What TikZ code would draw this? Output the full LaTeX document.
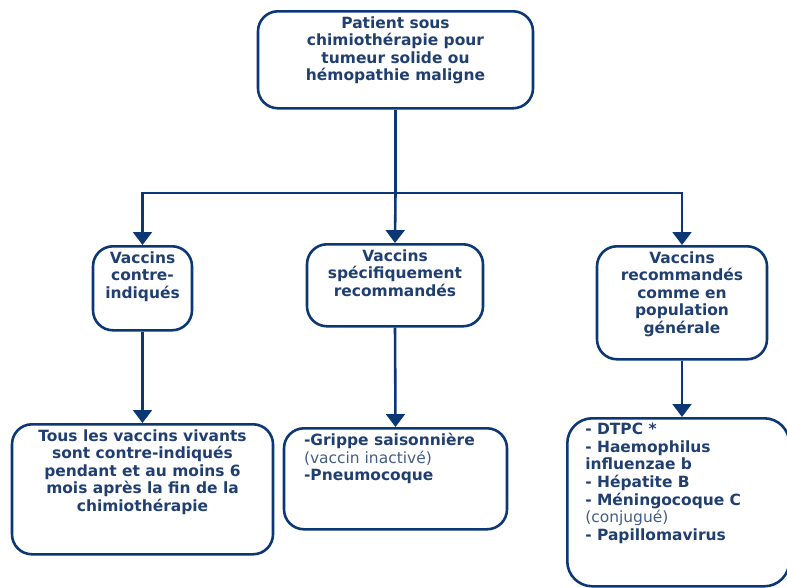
\documentclass[tikz,border=0pt]{standalone}
\usepackage{fontspec}
\setmainfont{DejaVu Sans}
\usetikzlibrary{arrows.meta,positioning}
\definecolor{bleuligne}{HTML}{0B3775}
\definecolor{bleutexte}{HTML}{203F70}
\newlength\px
\setlength\px{0.03cm}
\newcommand{\boxtxt}[3]{\parbox[t][#1][t]{#2}{\vspace*{5\px}#3}}
\newcommand{\fin}[1]{{\mdseries\color{bleutexte!85} #1}}
\tikzset{
  cadre/.style={draw=bleuligne, line width=2.2pt, rounded corners=0.6cm, inner sep=0pt, anchor=north, text=bleutexte, font=\fontsize{13.2}{15}\selectfont\bfseries},
  trait/.style={draw=bleuligne, line width=2.2pt},
  fleche/.style={trait, -{Triangle[width=16pt,length=11pt]}}
}

\begin{document}
\begin{tikzpicture}[x=0.03cm,y=-0.03cm]
\clip (0,0) rectangle (787,587);
\node[cadre] (patient) at (395.5,10) {\boxtxt{97\px}{275\px}{\centering Patient sous\\chimiothérapie pour\\tumeur solide ou\\hémopathie maligne}};
\node[cadre] (contre) at (142.5,245) {\boxtxt{84\px}{99\px}{\centering Vaccins\\contre-\\indiqués}};
\node[cadre] (specif) at (395,243) {\boxtxt{82\px}{176\px}{\centering Vaccins\\spécifiquement\\recommandés}};
\node[cadre] (general) at (682,245) {\boxtxt{113\px}{170\px}{\centering Vaccins\\recommandés\\comme en\\population\\générale}};
\node[cadre] (vivants) at (142.5,423) {\boxtxt{130\px}{261\px}{\centering Tous les vaccins vivants\\sont contre-indiqués\\pendant et au moins 6\\mois après la fin de la\\chimiothérapie}};
\node[cadre] (grippe) at (395.5,427) {\boxtxt{101\px}{223\px}{\raggedright\leftskip=20\px\relax -Grippe saisonnière\\\fin{(vaccin inactivé)}\\-Pneumocoque}};
\node[cadre, anchor=north west, rounded corners=0.75cm] (liste) at (566,417) {\boxtxt{168\px}{222\px}{\raggedright\leftskip=18\px\relax - DTPC *\\- Haemophilus\\influenzae b\\- Hépatite B\\- Méningocoque C\\\fin{(conjugué)}\\- Papillomavirus}};
\coordinate (embr) at (395.5,193);
\draw[trait] (patient.south) -- (embr);
\draw[fleche] (embr) -- (specif.north);
\draw[fleche] (embr) -| (contre.north);
\draw[fleche] (embr) -| (general.north);
\draw[fleche] (contre.south) -- (vivants.north);
\draw[fleche] (specif.south) -- (grippe.north);
\draw[fleche] (general.south) -- (general.south |- liste.north);
\end{tikzpicture}
\end{document}
